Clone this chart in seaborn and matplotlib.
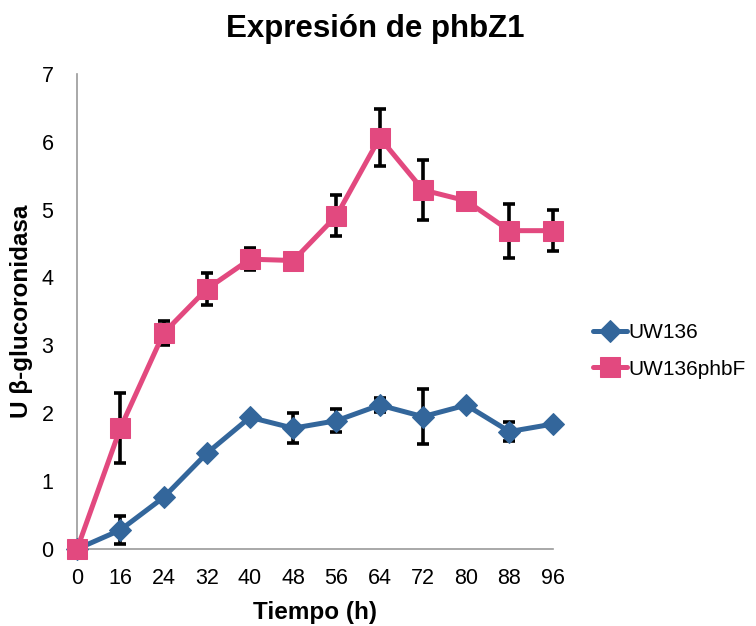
import matplotlib
matplotlib.use("Agg")
import matplotlib.pyplot as plt
import seaborn as sns
import pandas as pd
import numpy as np

tiempos = ["0", "16", "24", "32", "40", "48", "56", "64", "72", "80", "88", "96"]
uw136 = [0.0, 0.28, 0.76, 1.41, 1.94, 1.78, 1.89, 2.12, 1.95, 2.12, 1.73, 1.84]
uw136_err = [0.0, 0.21, 0.0, 0.0, 0.0, 0.22, 0.17, 0.10, 0.41, 0.0, 0.14, 0.0]
phbf = [0.0, 1.78, 3.18, 3.83, 4.27, 4.25, 4.91, 6.06, 5.29, 5.13, 4.69, 4.69]
phbf_err = [0.0, 0.52, 0.18, 0.24, 0.16, 0.0, 0.30, 0.42, 0.44, 0.10, 0.40, 0.30]
series = ["UW136", "UW136phbF"]

idx = np.arange(len(tiempos))
df = pd.DataFrame({
    "pos": np.concatenate([idx, idx]),
    "val": uw136 + phbf,
    "err": uw136_err + phbf_err,
    "serie": [series[0]] * len(tiempos) + [series[1]] * len(tiempos),
})

sns.set_theme(style="white")
plt.rcParams["font.family"] = ["Liberation Sans", "DejaVu Sans"]
plt.rcParams["text.color"] = "black"
plt.rcParams["axes.labelcolor"] = "black"

fig = plt.figure(figsize=(7.56, 6.26), dpi=100)
ax = fig.add_axes([0.102, 0.123, 0.629, 0.759])

colors = {"UW136": "#33669b", "UW136phbF": "#e2497f"}
markers = {"UW136": "D", "UW136phbF": "s"}
sizes = {"UW136": 11, "UW136phbF": 14}

for s in series:
    d = df[df.serie == s]
    ax.errorbar(d.pos, d.val, yerr=d.err, fmt="none", ecolor="black",
                elinewidth=2.6, capsize=4, capthick=2.6, zorder=2)

for s in series:
    d = df[df.serie == s]
    sns.lineplot(data=d, x="pos", y="val", ax=ax, color=colors[s],
                 marker=markers[s], markersize=sizes[s], markeredgecolor=colors[s],
                 linewidth=3.6, label=s, zorder=3, errorbar=None)

for ln in ax.lines:
    ln.set_clip_on(False)
for c in ax.collections:
    c.set_clip_on(False)

ax.set_xlim(0, len(tiempos) - 1)
ax.set_ylim(0, 7)
ax.set_xticks(idx)
ax.set_xticklabels(tiempos)
ax.set_yticks(range(0, 8))
for sp in ["top", "right"]:
    ax.spines[sp].set_visible(False)
for sp in ["left", "bottom"]:
    ax.spines[sp].set_color("#9a9a9a")
    ax.spines[sp].set_linewidth(1.2)
ax.tick_params(axis="both", which="both", direction="out", width=1.2,
               color="#9a9a9a", labelsize=15.5, labelcolor="black")
ax.tick_params(axis="y", length=7, pad=10)
ax.tick_params(axis="x", length=5, pad=9)

ax.set_xlabel("Tiempo (h)", fontsize=17.5, fontweight="bold", labelpad=8)
ax.set_ylabel("U β-glucoronidasa", fontsize=17.5, fontweight="bold", labelpad=6)
fig.suptitle("Expresión de phbZ1", fontsize=22.5, fontweight="bold", x=0.496, y=0.978)

leg = ax.legend(loc="center left", bbox_to_anchor=(1.068, 0.417), frameon=False,
                fontsize=15, handlelength=1.6, handletextpad=0.1, labelspacing=0.85,
                borderaxespad=0)

fig.savefig("out.png", dpi=100)
